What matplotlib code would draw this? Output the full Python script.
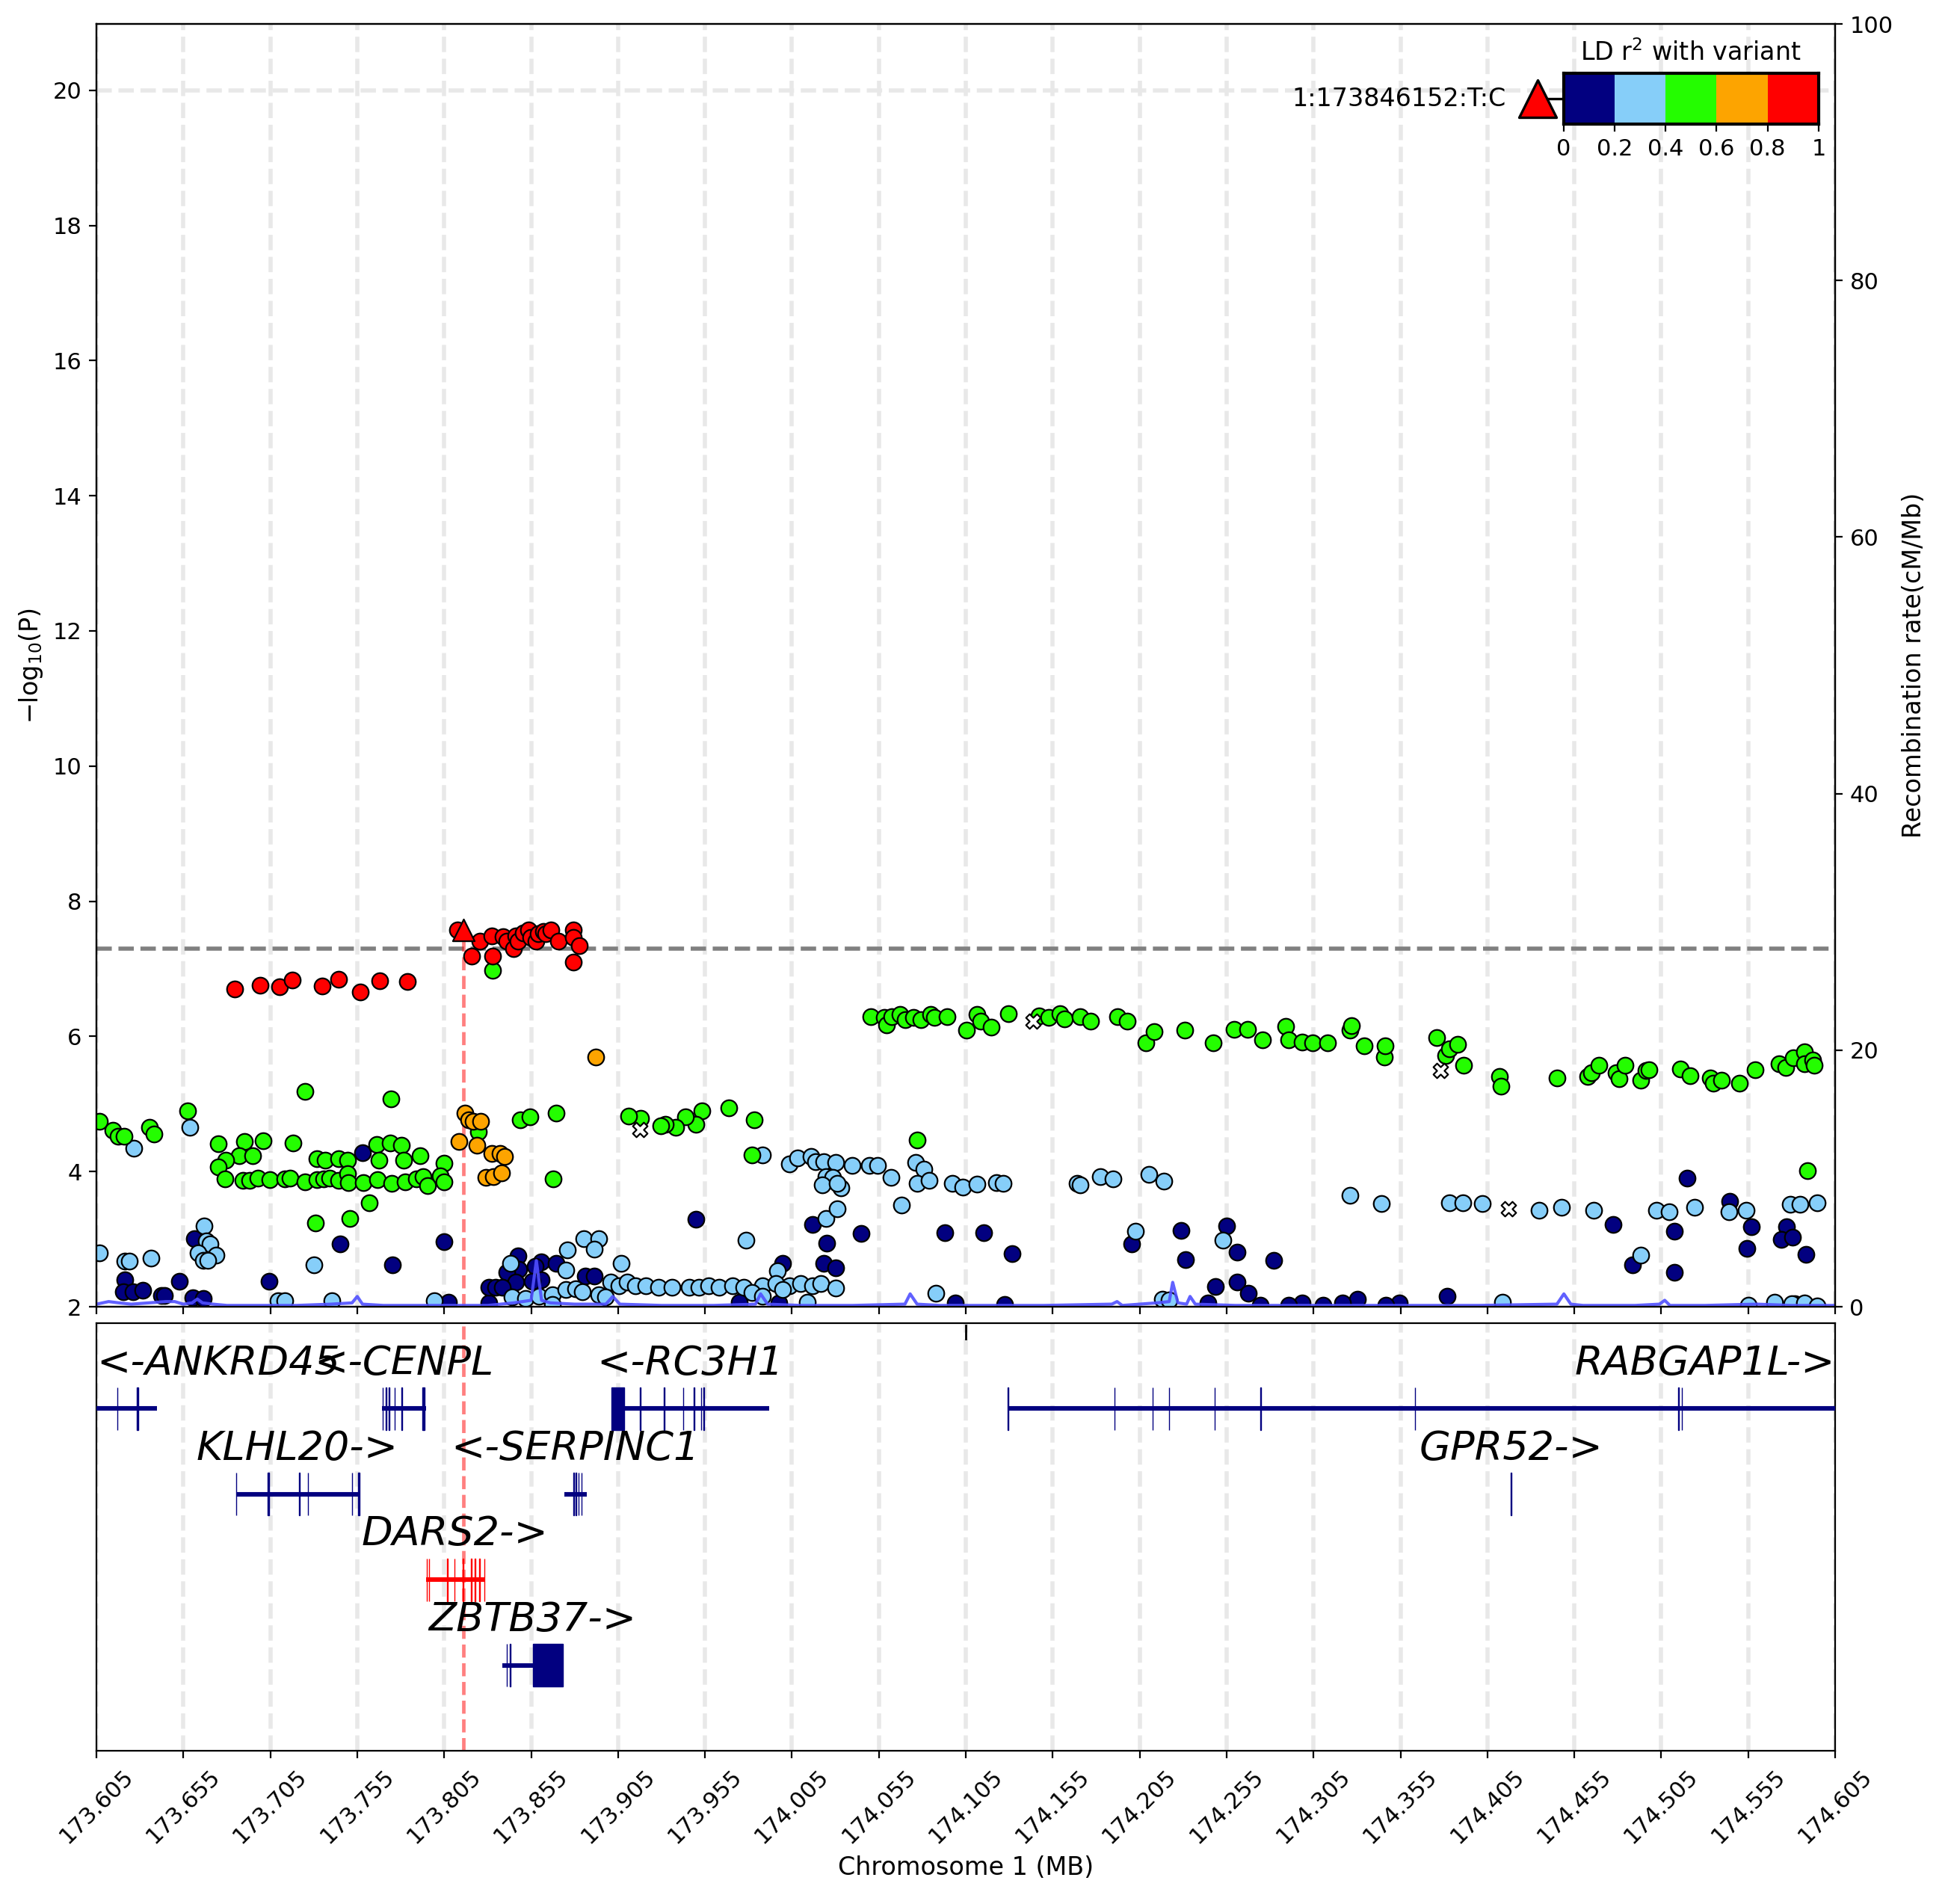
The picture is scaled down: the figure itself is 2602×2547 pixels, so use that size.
import matplotlib
matplotlib.use("Agg")
import matplotlib.pyplot as plt
from matplotlib.colors import ListedColormap
from matplotlib.patches import Rectangle
import numpy as np

# ---- LD colour palette ----
ld_colors = ["#020080", "#86CEF9", "#24FD00", "#FDA400", "#FF0000"]
ld_ticks = [0, 0.2, 0.4, 0.6, 0.8, 1]
ld_ticklabels = ["0", "0.2", "0.4", "0.6", "0.8", "1"]

lead_id = "1:173846152:T:C"
lead_x = 173.8161
lead_y = 7.57

# ---- variants by LD bin (position in MB, -log10 P) ----
navy_x = [173.7581, 173.6612, 173.7451, 173.7754, 173.8051, 173.6213, 173.6203, 173.6261, 173.6318,
          173.6424, 173.6443, 173.6529, 173.7042, 173.6606, 173.6664, 173.8074, 173.8305,
          173.8475, 173.8479, 173.8412, 173.8609, 173.8694, 173.8575, 173.8460, 173.8609, 173.8556,
          173.8863, 173.8911, 173.8306, 173.8344, 173.8383, 173.9746, 173.9976, 173.9995, 174.0235,
          174.0302, 174.0249, 174.0168, 173.9496, 174.0446,
          174.0929, 174.1153, 174.1317, 174.2004, 174.2287, 174.2315, 174.2552, 174.2612, 174.2820,
          174.2487, 174.2612, 174.2677, 174.3302, 174.3215, 174.3544, 174.3467, 174.2984, 174.2908,
          174.2743, 174.3105, 174.2443, 174.1273, 174.0988,
          174.5200, 174.5442, 174.4773, 174.5126, 174.5570, 174.5772, 174.5742, 174.5803, 174.5542,
          174.5882, 174.4883, 174.5126, 174.3820, 174.5816]
navy_y = [4.28, 3.01, 2.93, 2.62, 2.96, 2.40, 2.22, 2.22, 2.24,
          2.17, 2.17, 2.38, 2.38, 2.13, 2.12, 2.07, 2.05,
          2.75, 2.55, 2.51, 2.66, 2.64, 2.60, 2.36, 2.40, 2.38,
          2.45, 2.45, 2.29, 2.29, 2.29, 2.07, 2.05, 2.64, 2.64,
          2.57, 2.94, 3.22, 3.29, 3.08,
          3.10, 3.10, 2.78, 2.93, 3.13, 2.70, 3.20, 2.81, 2.69,
          2.30, 2.36, 2.20, 2.11, 2.06, 2.06, 2.02, 2.05, 2.02,
          2.02, 2.02, 2.05, 2.03, 2.06,
          3.90, 3.56, 3.22, 3.12, 3.18, 3.18, 3.00, 3.03, 2.86,
          2.77, 2.62, 2.51, 2.15, 2.04]

lblue_x = [173.6069, 173.6213, 173.6238, 173.6362, 173.6669, 173.6683, 173.6702, 173.6635, 173.6737,
           173.6664, 173.6692, 173.6587, 173.6264, 173.7299, 173.7095, 173.7134, 173.7404, 173.7992,
           173.8853, 173.8939, 173.8911, 173.8757, 173.8751, 173.9070, 173.9784, 173.9966, 174.0245,
           174.0312, 174.0682, 174.0878,
           173.9007, 173.9055, 173.9103, 173.9151, 173.9208, 173.9285, 173.9362, 173.9458, 173.9515,
           173.9573, 173.9630, 173.9707, 173.9774, 173.9880, 173.9957, 174.0034, 174.0101, 174.0168,
           174.0216, 174.0302,
           173.8440, 173.8517, 173.8594, 173.8671, 173.8748, 173.8805, 173.8843, 173.8939, 173.8978,
           173.8671, 173.9822, 173.9880, 173.9995, 174.0139, 173.8431,
           173.9880, 174.0034, 174.0082, 174.0158, 174.0187, 174.0235, 174.0302, 174.0398, 174.0494,
           174.0542, 174.0619, 174.0763, 174.0811, 174.0772, 174.0840, 174.0245, 174.0283, 174.0226,
           174.0331, 174.0312,
           174.0971, 174.1032, 174.1116, 174.1225, 174.1263, 174.1690, 174.1706, 174.1822, 174.1899,
           174.2103, 174.2188, 174.3259, 174.3441, 174.2024, 174.2530, 174.2179, 174.2221,
           174.3833, 174.3910, 174.4022, 174.4346, 174.4477, 174.4663, 174.5024, 174.5097, 174.5241,
           174.5438, 174.5537, 174.5791, 174.5849, 174.5948, 174.4934, 174.4135, 174.5701, 174.5800,
           174.5874, 174.5948, 174.5553]
lblue_y = [2.80, 2.68, 2.68, 2.72, 3.19, 2.97, 2.93, 2.80, 2.76,
           2.69, 2.69, 4.65, 4.35, 2.62, 2.09, 2.09, 2.09, 2.09,
           3.01, 3.01, 2.85, 2.84, 2.54, 2.64, 2.98, 2.53, 3.31,
           3.45, 3.50, 2.20,
           2.36, 2.31, 2.36, 2.31, 2.31, 2.29, 2.29, 2.29, 2.29,
           2.31, 2.29, 2.31, 2.29, 2.31, 2.34, 2.31, 2.34, 2.31,
           2.34, 2.28,
           2.14, 2.12, 2.15, 2.18, 2.25, 2.27, 2.22, 2.18, 2.14,
           2.03, 2.21, 2.16, 2.25, 2.07, 2.64,
           4.24, 4.11, 4.20, 4.22, 4.15, 4.15, 4.13, 4.09, 4.09,
           4.09, 3.91, 4.13, 4.04, 3.82, 3.87, 3.93, 3.91, 3.80,
           3.76, 3.82,
           3.82, 3.77, 3.81, 3.84, 3.83, 3.83, 3.80, 3.92, 3.89,
           3.96, 3.86, 3.65, 3.53, 3.12, 2.98, 2.11, 2.10,
           3.54, 3.54, 3.53, 3.43, 3.47, 3.43, 3.43, 3.41, 3.47,
           3.41, 3.43, 3.52, 3.52, 3.54, 2.76, 2.07, 2.07, 2.04,
           2.05, 2.01, 2.02]

green_x = [173.6069, 173.6145, 173.6174, 173.6209, 173.6356, 173.6381, 173.6573, 173.7249, 173.7744,
           173.6750, 173.6903, 173.7009, 173.7182, 173.7662, 173.7738, 173.7806, 173.7911, 173.8051,
           173.6871, 173.6948, 173.6794, 173.6750, 173.7316, 173.7364, 173.7441, 173.7493, 173.7677,
           173.7815,
           173.6788, 173.6894, 173.6932, 173.6980, 173.7047, 173.7134, 173.7163, 173.7249, 173.7316,
           173.7355, 173.7393, 173.7441, 173.7493, 173.7499, 173.7585, 173.7666, 173.7748, 173.7825,
           173.7892, 173.7930, 173.7953, 173.8026, 173.8051,
           173.7619, 173.7508, 173.7309, 173.8675, 173.8487, 173.8545, 173.8694, 173.8247, 173.8330,
           173.9822, 174.0772, 173.9688, 173.9832, 173.9534, 173.9496, 173.9439, 173.9381, 173.9323,
           173.9295, 173.9179, 173.9112,
           174.0506, 174.0583, 174.0594, 174.0626, 174.0670, 174.0703, 174.0747, 174.0791, 174.0846,
           174.0868, 174.0944, 174.1054, 174.1116, 174.1138, 174.1197, 174.1295, 174.1471, 174.1526,
           174.1592, 174.1618, 174.1708, 174.1767, 174.1921, 174.1980, 174.2085, 174.2133, 174.2309,
           174.2473, 174.2594, 174.2671, 174.2758, 174.2890, 174.2908, 174.2984, 174.3044, 174.3131,
           174.3259, 174.3270, 174.3342, 174.3456, 174.3463,
           174.3759, 174.3812, 174.3833, 174.3881, 174.3915, 174.4119, 174.4129, 174.4449, 174.4625,
           174.4650, 174.4691, 174.4789, 174.4806, 174.4842, 174.4932, 174.4962, 174.4978, 174.5159,
           174.5217, 174.5332, 174.5348, 174.5397, 174.5499, 174.5591, 174.5726, 174.5767, 174.5808,
           174.5874, 174.5874, 174.5923, 174.5931, 174.5890]
green_y = [4.74, 4.61, 4.52, 4.52, 4.66, 4.55, 4.90, 5.19, 5.07,
           4.41, 4.44, 4.46, 4.42, 4.40, 4.42, 4.39, 4.23, 4.12,
           4.23, 4.23, 4.17, 4.07, 4.19, 4.17, 4.19, 4.17, 4.17,
           4.17,
           3.89, 3.87, 3.87, 3.90, 3.88, 3.89, 3.90, 3.85, 3.88,
           3.89, 3.90, 3.87, 3.97, 3.84, 3.84, 3.88, 3.82, 3.85,
           3.89, 3.93, 3.79, 3.94, 3.85,
           3.54, 3.31, 3.24, 3.89, 4.76, 4.81, 4.86, 4.59, 6.98,
           4.24, 4.47, 4.94, 4.77, 4.90, 4.70, 4.81, 4.66, 4.70,
           4.68, 4.79, 4.82,
           6.29, 6.28, 6.17, 6.29, 6.33, 6.25, 6.28, 6.25, 6.33,
           6.28, 6.29, 6.09, 6.32, 6.22, 6.14, 6.34, 6.30, 6.28,
           6.34, 6.26, 6.29, 6.23, 6.29, 6.22, 5.90, 6.07, 6.09,
           5.91, 6.10, 6.10, 5.95, 6.15, 5.95, 5.92, 5.91, 5.91,
           6.09, 6.16, 5.86, 5.70, 5.86,
           5.98, 5.72, 5.82, 5.88, 5.57, 5.41, 5.26, 5.38, 5.41,
           5.46, 5.57, 5.46, 5.37, 5.57, 5.35, 5.49, 5.51, 5.52,
           5.42, 5.38, 5.31, 5.35, 5.31, 5.51, 5.59, 5.54, 5.68,
           5.77, 5.60, 5.65, 5.57, 4.01]

orange_x = [173.8170, 173.8189, 173.8218, 173.8261, 173.8136, 173.8238, 173.8324, 173.8372, 173.8397,
            173.8291, 173.8333, 173.8378, 173.8923]
orange_y = [4.87, 4.77, 4.74, 4.74, 4.44, 4.39, 4.27, 4.27, 4.22,
            3.91, 3.93, 3.98, 5.69]

red_x = [173.6846, 173.6992, 173.7101, 173.7176, 173.7349, 173.7443, 173.7566, 173.7679, 173.7840,
         173.8125, 173.8254, 173.8207, 173.8326, 173.8330, 173.8390, 173.8412, 173.8448, 173.8462,
         173.8476, 173.8505, 173.8534, 173.8548, 173.8577, 173.8591, 173.8620, 173.8634, 173.8665,
         173.8706, 173.8792, 173.8792, 173.8827, 173.8792]
red_y = [6.70, 6.76, 6.73, 6.83, 6.74, 6.84, 6.66, 6.82, 6.81,
         7.58, 7.41, 7.19, 7.49, 7.19, 7.47, 7.41, 7.30, 7.49,
         7.41, 7.53, 7.58, 7.46, 7.41, 7.52, 7.55, 7.52, 7.58,
         7.41, 7.58, 7.46, 7.34, 7.10]

# variants without LD information
noinfo_x = [173.9174, 174.1438, 174.3779, 174.4173]
noinfo_y = [4.62, 6.22, 5.49, 3.45]

# ---- recombination rate (cM/Mb) ----
recomb_pos = [173.605, 173.612, 173.618, 173.625, 173.635, 173.645, 173.650, 173.655, 173.660,
              173.663, 173.666, 173.672, 173.680, 173.700, 173.720, 173.740, 173.752, 173.755,
              173.758, 173.770, 173.790, 173.810, 173.830, 173.845, 173.855, 173.858, 173.861,
              173.866, 173.880, 173.898, 173.902, 173.906, 173.930, 173.960, 173.984, 173.987,
              173.991, 174.010, 174.040, 174.070, 174.073, 174.077, 174.090, 174.120, 174.150,
              174.189, 174.192, 174.195, 174.215, 174.222, 174.224, 174.227, 174.232, 174.234,
              174.237, 174.260, 174.300, 174.350, 174.400, 174.445, 174.449, 174.453, 174.460,
              174.490, 174.504, 174.507, 174.510, 174.530, 174.560, 174.580, 174.605]
recomb_rate = [0.2, 0.4, 0.3, 0.2, 0.3, 0.4, 0.4, 0.2, 0.3,
               0.6, 0.3, 0.2, 0.1, 0.1, 0.1, 0.2, 0.3, 0.8,
               0.2, 0.1, 0.1, 0.1, 0.1, 0.3, 0.5, 3.6, 0.5,
               0.3, 0.2, 0.2, 0.8, 0.2, 0.1, 0.1, 0.2, 1.0,
               0.2, 0.1, 0.1, 0.2, 1.0, 0.2, 0.1, 0.1, 0.1,
               0.2, 0.4, 0.1, 0.3, 0.4, 1.9, 0.3, 0.2, 0.8,
               0.2, 0.1, 0.1, 0.1, 0.1, 0.2, 1.0, 0.2, 0.1,
               0.1, 0.2, 0.5, 0.1, 0.1, 0.2, 0.1, 0.1]

# ---- genes: name, strand, row, start, end, exons, colour ----
gene_names = ["ANKRD45", "CENPL", "RC3H1", "RABGAP1L", "KLHL20", "SERPINC1", "GPR52", "DARS2", "ZBTB37"]
gene_strand = ["-", "-", "-", "+", "+", "-", "+", "+", "+"]
gene_row = [1, 1, 1, 1, 2, 2, 2, 3, 4]
gene_start = [173.598, 173.7692, 173.9013, 174.1292, 173.6853, 173.8739, 174.4184, 173.7944, 173.8383]
gene_end = [173.6396, 173.7944, 173.9919, 174.960, 173.7560, 173.8868, 174.4188, 173.8281, 173.8734]
gene_exons = [
    [(173.6169, 173.6171), (173.6280, 173.6292)],
    [(173.7696, 173.7698), (173.7715, 173.7717), (173.7732, 173.7734), (173.7765, 173.7767),
     (173.7806, 173.7808), (173.7925, 173.7938)],
    [(173.9013, 173.9087), (173.9177, 173.9179), (173.9314, 173.9316), (173.9424, 173.9426),
     (173.9487, 173.9489), (173.9528, 173.9530), (173.9542, 173.9544)],
    [(174.1291, 174.1293), (174.1905, 174.1907), (174.2124, 174.2126), (174.2219, 174.2221),
     (174.2481, 174.2483), (174.2745, 174.2749), (174.3632, 174.3634), (174.5148, 174.5150),
     (174.5168, 174.5170)],
    [(173.6852, 173.6854), (173.7036, 173.7044), (173.7217, 173.7219), (173.7266, 173.7268),
     (173.7518, 173.7520), (173.7555, 173.7562)],
    [(173.8793, 173.8795), (173.8807, 173.8809), (173.8821, 173.8823), (173.8840, 173.8842)],
    [(174.4184, 174.4188)],
    [(173.7949, 173.7951), (173.7963, 173.7965), (173.8067, 173.8069), (173.8108, 173.8110),
     (173.8157, 173.8159), (173.8204, 173.8206), (173.8226, 173.8228), (173.8253, 173.8255),
     (173.8280, 173.8282)],
    [(173.8409, 173.8411), (173.8429, 173.8431), (173.8562, 173.8734)],
]
gene_color = ["#020080", "#020080", "#020080", "#020080", "#020080", "#020080", "#020080", "#FF0000", "#020080"]

xmin, xmax = 173.605, 174.605
xticks = np.round(np.arange(173.605, 174.6051, 0.05), 3)

plt.rcParams["font.family"] = ["DejaVu Sans"]

fig = plt.figure(figsize=(13.01, 12.735), dpi=200)
ax = fig.add_axes([0.0496, 0.3137, 0.8939, 0.6737])
ax2 = fig.add_axes([0.0496, 0.0805, 0.8939, 0.2246])

grid_kw = dict(color="#E8E8E8", linestyle="--", linewidth=2, zorder=0)

# ---- main association panel ----
for xt in xticks:
    ax.axvline(xt, **grid_kw)
ax.axhline(20, **grid_kw)
ax.axhline(-np.log10(5e-8), color="grey", linestyle="--", linewidth=2, zorder=1)
ax.plot([lead_x, lead_x], [2, lead_y], color="#FF0000", alpha=0.5, linestyle="--", linewidth=1.7, zorder=1)

pt_kw = dict(s=60, edgecolors="black", linewidths=0.8, zorder=3)
ax.scatter(navy_x, navy_y, c=ld_colors[0], **pt_kw)
ax.scatter(lblue_x, lblue_y, c=ld_colors[1], **pt_kw)
ax.scatter(green_x, green_y, c=ld_colors[2], **pt_kw)
ax.scatter(orange_x, orange_y, c=ld_colors[3], **pt_kw)
ax.scatter(red_x, red_y, c=ld_colors[4], **pt_kw)
ax.scatter(noinfo_x, noinfo_y, marker="X", s=50, c="white", edgecolors="black", linewidths=0.8, zorder=3)
ax.scatter([lead_x], [lead_y], marker="^", s=110, c=ld_colors[4], edgecolors="black", linewidths=0.8, zorder=4)

ax.set_xlim(xmin, xmax)
ax.set_ylim(2, 20.98)
ax.set_xticks(xticks)
ax.set_xticklabels([])
ax.set_yticks(range(2, 21, 2))
ax.tick_params(labelsize=11)
ax.set_ylabel(r"$\mathregular{-log_{10}(P)}$", fontsize=12)

# recombination rate on the right
axr = ax.twinx()
axr.plot(recomb_pos, recomb_rate, color="#5050FF", linewidth=1.5, alpha=0.9, zorder=2)
axr.set_ylim(0, 100)
axr.set_yticks(range(0, 101, 20))
axr.tick_params(labelsize=11)
axr.set_ylabel("Recombination rate(cM/Mb)", fontsize=12)
axr.set_xlim(xmin, xmax)

# ---- LD legend ----
leg = ax.inset_axes([0.8439, 0.9221, 0.1466, 0.0396])
leg.imshow(np.arange(5).reshape(1, 5), cmap=ListedColormap(ld_colors), aspect="auto",
           extent=[0, 1, 0, 1], interpolation="nearest")
leg.set_xticks(ld_ticks)
leg.set_xticklabels(ld_ticklabels, fontsize=11)
leg.set_yticks([])
for sp in leg.spines.values():
    sp.set_linewidth(1.5)
leg.set_title(r"LD r$^{2}$ with variant", fontsize=12, pad=6)
ax.plot([0.8289, 0.8439], [0.9417, 0.9417], transform=ax.transAxes, color="black", linewidth=1.2, zorder=5)
ax.scatter([0.8289], [0.9417], marker="^", s=324, c=ld_colors[4], edgecolors="black",
           linewidths=1.2, transform=ax.transAxes, zorder=6, clip_on=False)
ax.text(0.8107, 0.9417, lead_id, transform=ax.transAxes, ha="right", va="center", fontsize=12)

# ---- gene track ----
for xt in xticks:
    ax2.axvline(xt, **grid_kw)
ax2.axvline(lead_x, color="#FF0000", alpha=0.5, linestyle="--", linewidth=1.7, zorder=1)
ax2.plot([174.105, 174.105], [0.963, 0.995], transform=ax2.get_xaxis_transform(), color="black", linewidth=1)

ax2.set_xlim(xmin, xmax)
ax2.set_ylim(-5, 0)

labels = []
for name, strand, row, s, e, exons, col in zip(gene_names, gene_strand, gene_row, gene_start,
                                                gene_end, gene_exons, gene_color):
    y = -row
    ax2.plot([s, e], [y, y], color=col, linewidth=2.2, solid_capstyle="butt", zorder=3)
    for es, ee in exons:
        ax2.add_patch(Rectangle((es, y - 0.25), ee - es, 0.5, facecolor=col, edgecolor=col,
                                linewidth=0.5, zorder=3))
    label = "<-" + name if strand == "-" else name + "->"
    t = ax2.text((s + e) / 2, y + 0.40, label, style="italic", fontsize=19.5, ha="center",
                 va="baseline", zorder=4)
    labels.append(t)

# keep gene labels inside the track
fig.canvas.draw()
renderer = fig.canvas.get_renderer()
axbb = ax2.get_window_extent(renderer)
for t in labels:
    bb = t.get_window_extent(renderer)
    if bb.x0 < axbb.x0:
        t.set_ha("left")
        t.set_x(xmin)
    elif bb.x1 > axbb.x1:
        t.set_ha("right")
        t.set_x(xmax)

ax2.set_yticks([])
ax2.set_xticks(xticks)
ax2.set_xticklabels([f"{v:.3f}" for v in xticks], rotation=45, fontsize=11)
ax2.set_xlabel("Chromosome 1 (MB)", fontsize=12)

fig.savefig("out.png", dpi=200)
